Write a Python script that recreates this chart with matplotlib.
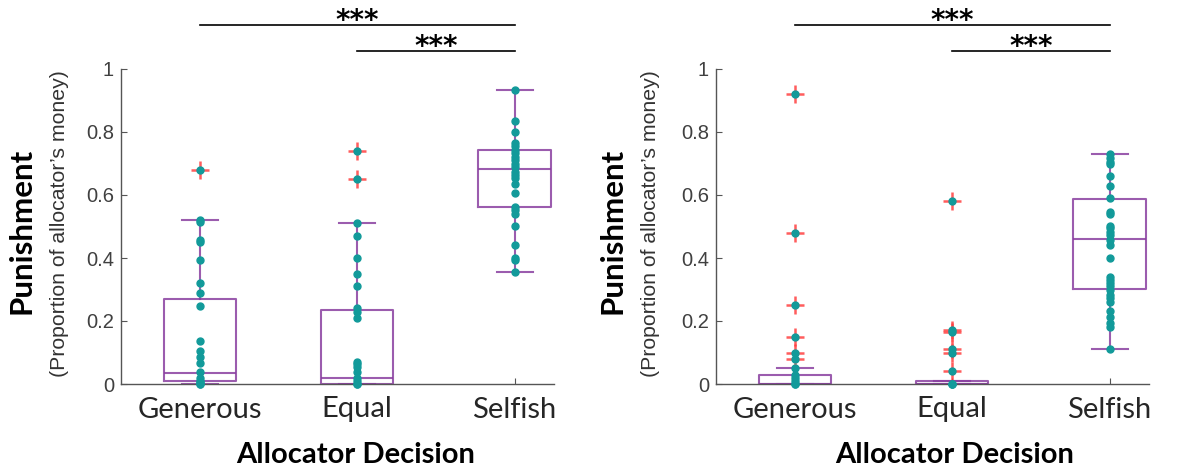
import matplotlib
matplotlib.use("Agg")
import matplotlib.pyplot as plt

categories = ["Generous", "Equal", "Selfish"]
yticks = [0, 0.2, 0.4, 0.6, 0.8, 1]
ytick_labels = ["0", "0.2", "0.4", "0.6", "0.8", "1"]

# ---- Left panel data ----
left_generous = [0.68, 0.52, 0.515, 0.457, 0.45, 0.394, 0.32, 0.29, 0.247, 0.137,
                 0.106, 0.087, 0.066, 0.039, 0.02, 0.01, 0.005, 0.0, 0.0]
left_equal = [0.74, 0.65, 0.51, 0.47, 0.40, 0.35, 0.31, 0.24, 0.23, 0.21,
              0.07, 0.065, 0.055, 0.039, 0.02, 0.01, 0.0, 0.0]
left_selfish = [0.933, 0.836, 0.80, 0.766, 0.756, 0.743, 0.732, 0.722, 0.711, 0.698,
                0.688, 0.674, 0.663, 0.653, 0.635, 0.607, 0.563, 0.552, 0.54, 0.50,
                0.44, 0.40, 0.394, 0.357]
left_outliers = [[0.68], [0.74, 0.65], []]
left_q1 = [0.01, 0.0, 0.563]
left_med = [0.036, 0.02, 0.683]
left_q3 = [0.27, 0.236, 0.743]
left_whislo = [0.0, 0.0, 0.357]
left_whishi = [0.52, 0.51, 0.933]

# ---- Right panel data ----
right_generous = [0.92, 0.48, 0.25, 0.15, 0.10, 0.08, 0.05, 0.03, 0.02, 0.01, 0.0, 0.0]
right_equal = [0.58, 0.17, 0.165, 0.11, 0.10, 0.04, 0.0, 0.0, 0.0]
right_selfish = [0.73, 0.716, 0.706, 0.698, 0.66, 0.628, 0.59, 0.547, 0.54, 0.50,
                 0.494, 0.484, 0.473, 0.457, 0.44, 0.40, 0.34, 0.33, 0.32, 0.311,
                 0.30, 0.283, 0.272, 0.261, 0.233, 0.212, 0.195, 0.182, 0.11]
right_outliers = [[0.92, 0.48, 0.25, 0.15, 0.10, 0.08],
                  [0.58, 0.17, 0.165, 0.11, 0.10, 0.04], []]
right_q1 = [0.0, 0.0, 0.303]
right_med = [0.0, 0.0, 0.46]
right_q3 = [0.03, 0.008, 0.588]
right_whislo = [0.0, 0.0, 0.11]
right_whishi = [0.05, 0.008, 0.73]

sig_pairs = [(1, 3), (2, 3)]
sig_labels = ["***", "***"]

BOX_C = "#8a3fa0"
PT_C = "#129a9a"
OUT_C = "#ff4040"
AX_C = "#555555"
TXT_C = "#262626"

fig = plt.figure(figsize=(11.86, 4.68), dpi=100)
W, H = 1186, 468

def draw_panel(left_px, data, outliers, q1, med, q3, wlo, whi):
    ax = fig.add_axes([left_px / W, 84 / H, 433 / W, 315 / H])
    pos = [1, 2, 3]
    stats = []
    for i in range(3):
        stats.append(dict(med=med[i], q1=q1[i], q3=q3[i], whislo=wlo[i], whishi=whi[i], fliers=[]))
    ax.bxp(stats, positions=pos, widths=0.46, showfliers=False,
           boxprops=dict(color=BOX_C, lw=1.5, alpha=0.85),
           medianprops=dict(color=BOX_C, lw=1.5, alpha=0.85),
           whiskerprops=dict(color=BOX_C, lw=1.5, alpha=0.85),
           capprops=dict(color=BOX_C, lw=1.5, alpha=0.85),
           capwidths=0.23, manage_ticks=False)
    for i in range(3):
        if outliers[i]:
            ax.plot([pos[i]] * len(outliers[i]), outliers[i], '+', color=OUT_C,
                    ms=13, mew=1.8, alpha=0.85, clip_on=False, zorder=4)
        ax.plot([pos[i]] * len(data[i]), data[i], 'o', color=PT_C, ms=5.0,
                mec=PT_C, clip_on=False, zorder=5)
    ax.set_xlim(0.5, 3.25)
    ax.set_ylim(0, 1)
    ax.set_yticks(yticks)
    ax.set_yticklabels(ytick_labels, fontsize=14.5, color="#404040", family="Liberation Sans")
    ax.set_xticks(pos)
    ax.set_xticklabels(categories, fontsize=21, color=TXT_C, family="Lato")
    ax.tick_params(axis='both', direction='in', length=4, color=AX_C, width=0.8)
    ax.tick_params(axis='x', pad=9)
    ax.tick_params(axis='y', pad=5)
    for s in ["top", "right"]:
        ax.spines[s].set_visible(False)
    for s in ["left", "bottom"]:
        ax.spines[s].set_color(AX_C)
        ax.spines[s].set_linewidth(1.0)
    # significance bars
    for k, ((a, b), lab) in enumerate(zip(sig_pairs, sig_labels)):
        yb = 1.14 if k == 0 else 1.057
        ax.plot([a, b], [yb, yb], color="black", lw=1.2, clip_on=False)
        ax.text((a + b) / 2, yb - 0.012, lab, ha='center', va='baseline', fontsize=20,
                fontweight='bold', family="DejaVu Sans", color="black", clip_on=False)
    return ax

axL = draw_panel(121, [left_generous, left_equal, left_selfish], left_outliers,
                 left_q1, left_med, left_q3, left_whislo, left_whishi)
axR = draw_panel(716, [right_generous, right_equal, right_selfish], right_outliers,
                 right_q1, right_med, right_q3, right_whislo, right_whishi)

for cx_p, cx_s, cx_x in [(22, 60, 356), (612, 650, 955)]:
    fig.text(cx_p / W, 1 - 231 / H, "Punishment", rotation=90, ha='center', va='center',
             fontsize=22.5, fontweight='bold', family="Lato", color="black")
    fig.text(cx_s / W, 1 - 224 / H, "(Proportion of allocator\u2019s money)", rotation=90,
             ha='center', va='center', fontsize=15.3, family="Liberation Sans", color="#333333")
    fig.text(cx_x / W, 1 - 455 / H, "Allocator Decision", ha='center', va='center',
             fontsize=21, fontweight='bold', family="Lato", color="black")

fig.savefig("out.png", dpi=100)
